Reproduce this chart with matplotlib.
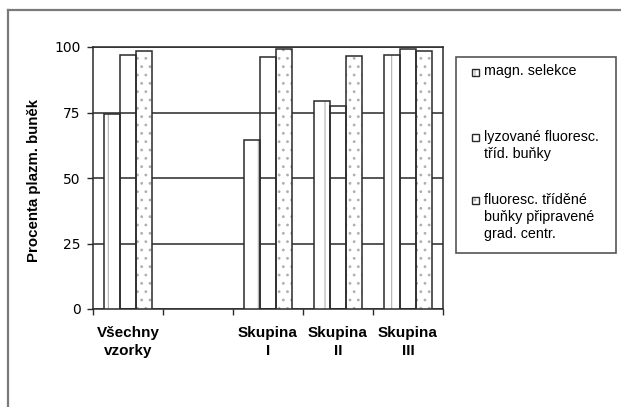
import matplotlib
matplotlib.use("Agg")
import matplotlib.pyplot as plt
import numpy as np
from matplotlib.patches import Rectangle
from matplotlib.lines import Line2D

categories = ["Všechny\nvzorky", "", "Skupina\nI", "Skupina\nII", "Skupina\nIII"]
series_names = ["magn. selekce",
                "lyzované fluoresc.\ntříd. buňky",
                "fluoresc. tříděné\nbuňky připravené\ngrad. centr."]
magn_selekce = [74.5, np.nan, 64.5, 79.5, 97.0]
lyzovane = [97.0, np.nan, 96.0, 77.3, 99.2]
fluoresc_tridene = [98.6, np.nan, 99.2, 96.6, 98.6]
yticks = [0, 25, 50, 75, 100]
ylabel = "Procenta plazm. buněk"

W, H, DPI = 621, 407, 100
fig = plt.figure(figsize=(W / DPI, H / DPI), dpi=DPI)
fig.patch.set_facecolor("white")

def fx(px):
    return px / W

def fy(py):
    return 1 - py / H

ax = fig.add_axes([fx(93), fy(309), fx(443) - fx(93), fy(47) - fy(309)])

edge = "#2a2a2a"
hatch_col = "#b0b0b0"
plt.rcParams["hatch.linewidth"] = 0.8
styles = [dict(hatch="|"), dict(hatch=None), dict(hatch="..")]
series = [magn_selekce, lyzovane, fluoresc_tridene]

x = np.arange(len(categories))
bw = 0.23
offs = [-bw, 0, bw]
for vals, off, st in zip(series, offs, styles):
    v = np.array(vals, dtype=float)
    if st["hatch"]:
        ax.bar(x + off, v, width=bw, color="white", edgecolor=hatch_col,
               hatch=st["hatch"], linewidth=0, zorder=3)
    ax.bar(x + off, v, width=bw, color="none", edgecolor=edge,
           linewidth=1.1, zorder=4)

ax.set_xlim(-0.5, len(categories) - 0.5)
ax.set_ylim(0, 100)
ax.set_yticks(yticks)
ax.set_yticklabels([str(t) for t in yticks], fontsize=10, family="DejaVu Sans")
ax.yaxis.grid(True, color="#3a3a3a", linewidth=1.2, zorder=1)
ax.set_axisbelow(True)
ax.tick_params(axis="y", direction="out", length=4, width=1, color=edge, pad=5)

ax.set_xticks(x)
ax.set_xticklabels(categories, fontsize=11, fontweight="bold",
                   family="Liberation Sans", linespacing=1.35)
ax.set_xticks(np.arange(len(categories) + 1) - 0.5, minor=True)
ax.tick_params(axis="x", which="major", length=0, pad=12)
ax.tick_params(axis="x", which="minor", direction="out", length=4, width=1, color=edge)

for s in ax.spines.values():
    s.set_color(edge)
    s.set_linewidth(1.1)

fig.text(fx(34), fy(181), ylabel, rotation=90, ha="center", va="center",
         fontsize=10.8, fontweight="bold", family="Liberation Sans")

# legend (manual layout)
lg = Rectangle((fx(456), fy(253)), fx(616) - fx(456), fy(57) - fy(253),
               transform=fig.transFigure, facecolor="white", edgecolor="#555555",
               linewidth=1.2)
fig.patches.append(lg)
entry_y = [72, 137, 200]
for name, st, ey in zip(series_names, styles, entry_y):
    if st["hatch"]:
        hp = Rectangle((fx(472), fy(ey + 3.5)), fx(7), 7 / H, transform=fig.transFigure,
                       facecolor="white", edgecolor=hatch_col, hatch=st["hatch"],
                       linewidth=0)
        fig.patches.append(hp)
    hb = Rectangle((fx(472), fy(ey + 3.5)), fx(7), 7 / H, transform=fig.transFigure,
                   facecolor="none", edgecolor=edge, linewidth=1.0)
    fig.patches.append(hb)
    fig.text(fx(484), fy(ey - 7.5), name, ha="left", va="top", fontsize=10.3,
             family="Liberation Sans", linespacing=1.28)

# figure frame (left and top edges)
fig.add_artist(Line2D([fx(8), fx(8)], [fy(10), 0], transform=fig.transFigure,
                      color="#7a7a7a", linewidth=1.6))
fig.add_artist(Line2D([fx(8), 1], [fy(10), fy(10)], transform=fig.transFigure,
                      color="#7a7a7a", linewidth=1.6))

fig.savefig("out.png", dpi=DPI, facecolor="white")
